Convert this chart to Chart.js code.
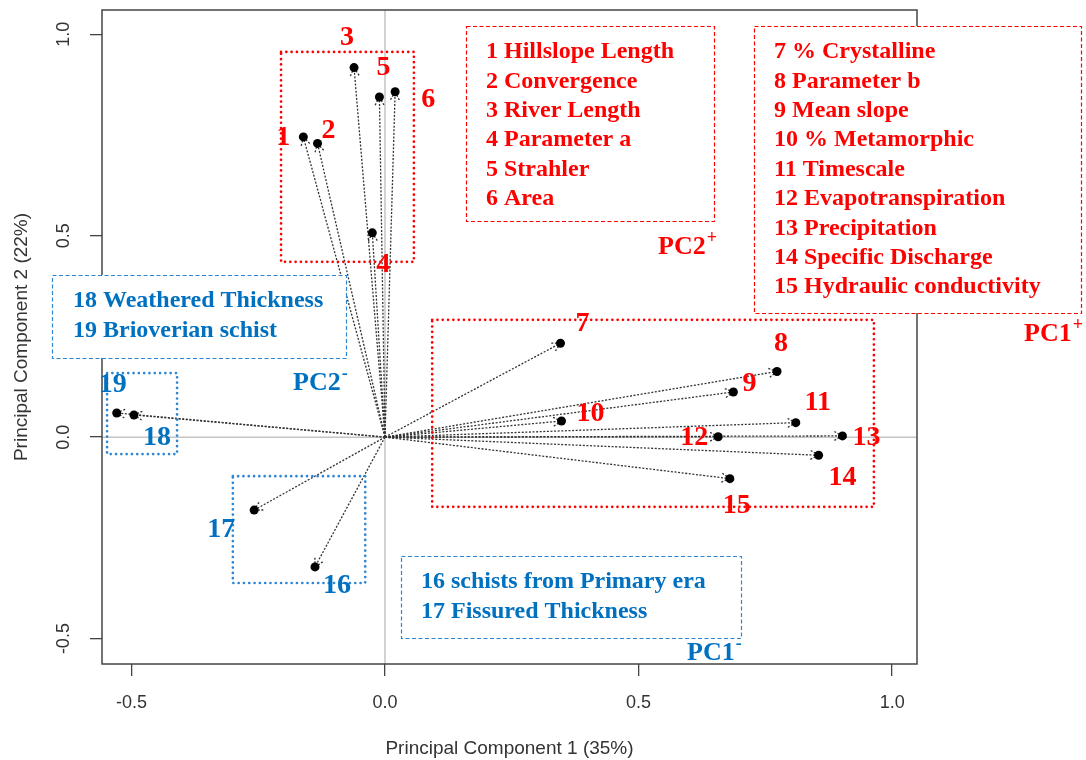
<!DOCTYPE html>
<html>
<head>
<meta charset="utf-8">
<script src="https://cdn.jsdelivr.net/npm/chart.js@4.4.1/dist/chart.umd.min.js"></script>
<style>
  html, body { margin: 0; padding: 0; background: #fff; }
</style>
</head>
<body>
<canvas id="pcaChart" width="1086" height="760"></canvas>
<script>
// variables of the PCA (numbered 1..19)
const varNames = [
  'Hillslope Length', 'Convergence', 'River Length', 'Parameter a', 'Strahler', 'Area',
  '% Crystalline', 'Parameter b', 'Mean slope', '% Metamorphic', 'Timescale',
  'Evapotranspiration', 'Precipitation', 'Specific Discharge', 'Hydraulic conductivity',
  'schists from Primary era', 'Fissured Thickness', 'Weathered Thickness', 'Brioverian schist'
];
const pc1Loadings = [-0.161, -0.133, -0.061, -0.025, -0.011, 0.020, 0.346, 0.773, 0.687, 0.348,
  0.810, 0.657, 0.902, 0.855, 0.680, -0.138, -0.258, -0.495, -0.529];
const pc2Loadings = [0.745, 0.729, 0.917, 0.507, 0.844, 0.857, 0.233, 0.163, 0.112, 0.040,
  0.036, 0.001, 0.003, -0.045, -0.103, -0.322, -0.181, 0.055, 0.060];
const axisTicks = [-0.5, 0.0, 0.5, 1.0];

// where each number sits relative to its point (px)
const labelDx = [-20, 11, -7, 11, 4, 33, 22, 4, 16, 29, 22, -24, 24, 24, 7, 22, -33, 23, -4];
const labelDy = [1, -13, -30, 32, -29, 8, -19, -28, -8, -7, -20, 1, 2, 22, 27, 19, 20, 23, -28];

const RED = '#ff0000';
const BLUE = '#0070c0';
const BLUE_LINE = '#2c86d4';

// dotted boxes around groups (data units)
const groupBoxes = [
  { x: [-0.205, 0.057], y: [0.956, 0.435], color: RED },
  { x: [0.093, 0.964], y: [0.291, -0.173], color: RED },
  { x: [-0.548, -0.410], y: [0.159, -0.042], color: BLUE_LINE },
  { x: [-0.300, -0.039], y: [-0.097, -0.362], color: BLUE_LINE }
];

// dashed legend boxes (px)
const legendBoxes = [
  { items: [0, 1, 2, 3, 4, 5], left: 466, top: 26, right: 714, bottom: 221, textX: 486, firstY: 52, color: RED, line: RED },
  { items: [6, 7, 8, 9, 10, 11, 12, 13, 14], left: 754, top: 26, right: 1081, bottom: 313, textX: 774, firstY: 52, color: RED, line: RED },
  { items: [17, 18], left: 52, top: 275, right: 346, bottom: 358, textX: 73, firstY: 301, color: BLUE, line: BLUE_LINE },
  { items: [15, 16], left: 401, top: 556, right: 741, bottom: 638, textX: 421, firstY: 582, color: BLUE, line: BLUE_LINE }
];

const pcLabels = [
  { text: 'PC2', sup: '+', x: 658, y: 247, color: RED },
  { text: 'PC1', sup: '+', x: 1024, y: 334, color: RED },
  { text: 'PC2', sup: '-', x: 293, y: 383, color: BLUE },
  { text: 'PC1', sup: '-', x: 687, y: 653, color: BLUE }
];

const SERIF = '"Liberation Serif", "Times New Roman", serif';
Chart.defaults.font.family = '"Liberation Sans", Arial, sans-serif';

function strokeLine(ctx, x1, y1, x2, y2) {
  ctx.beginPath();
  ctx.moveTo(x1, y1);
  ctx.lineTo(x2, y2);
  ctx.stroke();
}

const pcaOverlay = {
  id: 'pcaOverlay',
  beforeDatasetsDraw(chart) {
    const { ctx, chartArea: a, scales: { x, y } } = chart;
    const x0 = x.getPixelForValue(0);
    const y0 = y.getPixelForValue(0);
    ctx.save();

    ctx.strokeStyle = '#c4c4c4';
    ctx.lineWidth = 1.5;
    strokeLine(ctx, a.left, y0, a.right, y0);
    strokeLine(ctx, x0, a.top, x0, a.bottom);

    ctx.strokeStyle = '#444';
    ctx.lineWidth = 1.5;
    ctx.strokeRect(a.left, a.top, a.width, a.height);

    // dotted arrows from the origin
    ctx.strokeStyle = '#333';
    ctx.lineWidth = 1.3;
    ctx.setLineDash([2, 1.6]);
    pc1Loadings.forEach((v, i) => {
      const px = x.getPixelForValue(v);
      const py = y.getPixelForValue(pc2Loadings[i]);
      strokeLine(ctx, x0, y0, px, py);
      const ang = Math.atan2(py - y0, px - x0);
      const len = 10, spread = 0.5;
      strokeLine(ctx, px, py, px - len * Math.cos(ang - spread), py - len * Math.sin(ang - spread));
      strokeLine(ctx, px, py, px - len * Math.cos(ang + spread), py - len * Math.sin(ang + spread));
    });
    ctx.restore();
  },
  afterDraw(chart) {
    const { ctx, chartArea: a, scales: { x, y } } = chart;
    ctx.save();

    // rotated y tick labels
    ctx.fillStyle = '#333';
    ctx.font = '18px "Liberation Sans", Arial, sans-serif';
    ctx.textAlign = 'center';
    ctx.textBaseline = 'middle';
    y.ticks.forEach(t => {
      ctx.save();
      ctx.translate(a.left - 38, y.getPixelForValue(t.value));
      ctx.rotate(-Math.PI / 2);
      ctx.fillText(t.value.toFixed(1), 0, 0);
      ctx.restore();
    });

    // dotted group boxes
    ctx.lineWidth = 2.7;
    ctx.lineCap = 'round';
    ctx.setLineDash([0, 5.3]);
    groupBoxes.forEach(b => {
      const l = x.getPixelForValue(b.x[0]), r = x.getPixelForValue(b.x[1]);
      const t = y.getPixelForValue(b.y[0]), btm = y.getPixelForValue(b.y[1]);
      ctx.strokeStyle = b.color;
      ctx.strokeRect(l, t, r - l, btm - t);
    });
    ctx.setLineDash([]);
    ctx.lineCap = 'butt';

    // variable numbers
    ctx.font = 'bold 28px ' + SERIF;
    pc1Loadings.forEach((v, i) => {
      ctx.fillStyle = i < 15 ? RED : BLUE;
      ctx.fillText(String(i + 1), x.getPixelForValue(v) + labelDx[i], y.getPixelForValue(pc2Loadings[i]) + labelDy[i]);
    });

    // legend boxes
    legendBoxes.forEach(b => {
      ctx.fillStyle = '#fff';
      ctx.fillRect(b.left, b.top, b.right - b.left, b.bottom - b.top);
      ctx.strokeStyle = b.line;
      ctx.lineWidth = 1.2;
      ctx.setLineDash([4, 2.5]);
      ctx.strokeRect(b.left + 0.5, b.top + 0.5, b.right - b.left, b.bottom - b.top);
      ctx.setLineDash([]);
      ctx.fillStyle = b.color;
      ctx.font = 'bold 24px ' + SERIF;
      ctx.textAlign = 'left';
      b.items.forEach((idx, k) => {
        ctx.fillText(`${idx + 1} ${varNames[idx]}`, b.textX, b.firstY + k * 29.4);
      });
    });

    // PC direction tags
    pcLabels.forEach(p => {
      ctx.fillStyle = p.color;
      ctx.textAlign = 'left';
      ctx.font = 'bold 26px ' + SERIF;
      ctx.fillText(p.text, p.x, p.y);
      const w = ctx.measureText(p.text).width;
      ctx.font = 'bold 18px ' + SERIF;
      ctx.fillText(p.sup, p.x + w + 1, p.y - 9);
    });
    ctx.restore();
  }
};

new Chart(document.getElementById('pcaChart'), {
  type: 'scatter',
  data: {
    datasets: [{
      data: pc1Loadings.map((v, i) => ({ x: v, y: pc2Loadings[i] })),
      pointRadius: 4.5,
      pointHoverRadius: 4.5,
      backgroundColor: '#000',
      borderWidth: 0
    }]
  },
  options: {
    responsive: false,
    animation: false,
    layout: { padding: { left: 0, right: 169, top: 10, bottom: 0 } },
    plugins: { legend: { display: false }, tooltip: { enabled: false } },
    scales: {
      x: {
        type: 'linear',
        min: -0.558,
        max: 1.049,
        afterFit: s => { s.height = 96; },
        afterBuildTicks: s => { s.ticks = axisTicks.map(v => ({ value: v })); },
        border: { display: false },
        grid: { drawOnChartArea: false, drawTicks: true, tickLength: 12, color: '#444', lineWidth: 1.3 },
        ticks: { color: '#333', font: { size: 18 }, padding: 16, maxRotation: 0, callback: v => v.toFixed(1) },
        title: { display: true, text: 'Principal Component 1 (35%)', color: '#333', font: { size: 19 }, padding: { top: 0, bottom: 0 } }
      },
      y: {
        type: 'linear',
        min: -0.563,
        max: 1.06,
        afterFit: s => { s.width = 102; },
        afterBuildTicks: s => { s.ticks = axisTicks.map(v => ({ value: v })); },
        border: { display: false },
        grid: { drawOnChartArea: false, drawTicks: true, tickLength: 12, color: '#444', lineWidth: 1.3 },
        ticks: { display: false },
        title: { display: true, text: 'Principal Component 2 (22%)', color: '#333', font: { size: 19 }, padding: { top: 10, bottom: 0 } }
      }
    }
  },
  plugins: [pcaOverlay]
});
</script>
</body>
</html>
